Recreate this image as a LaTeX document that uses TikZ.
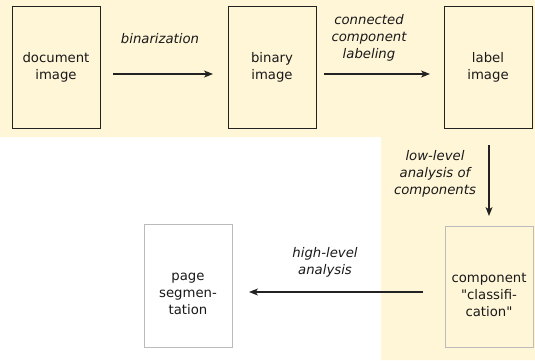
\documentclass[tikz,border=0pt]{standalone}
\usepackage{fontspec}
\setmainfont{DejaVu Sans}[Ligatures=TeXOff]
\usetikzlibrary{arrows.meta}
\definecolor{bgyellow}{HTML}{FFF5D7}
\definecolor{darkline}{HTML}{222222}
\definecolor{grayline}{HTML}{BBBBBB}
\begin{document}
\begin{tikzpicture}[x=1bp,y=-1bp,
  darkbox/.style={draw=darkline,line width=0.9bp,fill=bgyellow},
  graybox/.style={draw=grayline,line width=0.9bp},
  boxtext/.style={align=center,font=\fontsize{13.3}{17}\selectfont,text=black!90},
  steptext/.style={align=center,font=\fontsize{13.3}{17}\selectfont\itshape,text=black!90},
  flow/.style={draw=darkline,line width=1.1bp,-{Stealth[length=9bp,width=7bp,inset=2.5bp]}}]
\useasboundingbox (0,0) rectangle (535,360);
\fill[bgyellow] (0,0) -- (535,0) -- (535,360) -- (381,360) -- (381,137) -- (0,137) -- cycle;
% boxes
\node[darkbox,minimum width=88bp,minimum height=122bp,inner sep=0pt] (doc) at (56,67) {};
\node[darkbox,minimum width=88bp,minimum height=122bp,inner sep=0pt] (bin) at (272,67) {};
\node[darkbox,minimum width=88bp,minimum height=122bp,inner sep=0pt] (lab) at (488,67) {};
\node[graybox,fill=bgyellow,minimum width=88bp,minimum height=121bp,inner sep=0pt] (comp) at (489,286.5) {};
\node[graybox,fill=white,minimum width=88bp,minimum height=123bp,inner sep=0pt] (page) at (188,285.5) {};
% box texts
\node[boxtext] (doct) at (56,67) {document\\image};
\node[boxtext] (bint) at (272,67) {binary\\image};
\node[boxtext] (labt) at (488,67) {label\\image};
\node[boxtext] (compt) at (489,295) {component\\"classifi-\\cation"};
\node[boxtext] (paget) at (188,294) {page\\segmen-\\tation};
% connector end points
\coordinate (a1s) at (113,74);
\coordinate (a1e) at (213,74);
\coordinate (a2s) at (324,74);
\coordinate (a2e) at (430,74);
\coordinate (a3s) at (489,145);
\coordinate (a3e) at (489,216);
\coordinate (a4s) at (423,292);
\coordinate (a4e) at (249,292);
\draw[flow] (a1s) -- (a1e);
\draw[flow] (a2s) -- (a2e);
\draw[flow] (a3s) -- (a3e);
\draw[flow] (a4s) -- (a4e);
% step labels
\node[steptext] (l1) at (160,39) {binarization};
\node[steptext] (l2) at (369,38) {connected\\component\\labeling};
\node[steptext] (l3) at (435,174) {low-level\\analysis of\\components};
\node[steptext] (l4) at (325,262) {high-level\\analysis};
\end{tikzpicture}
\end{document}
